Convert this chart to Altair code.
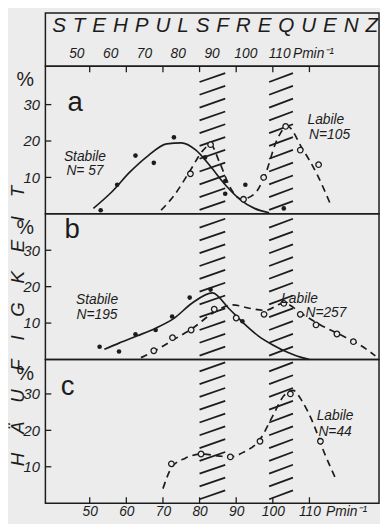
import altair as alt
import pandas as pd

# ---------------- data ----------------
X_TICKS = [50, 60, 70, 80, 90, 100, 110]
UNIT_X = 120
UNIT_LABEL = "Pmin⁻¹"
Y_TICKS = [10, 20, 30]
TITLE = "STEHPULSFREQUENZ"
Y_TITLE = "HÄUFIGKEIT"

# hatched bands (pulse frequency)
BAND_LO = [80, 99]
BAND_HI = [87, 105.5]

# panel a
A_STAB_PX = [53, 57.5, 62.5, 67.5, 73, 81.5, 87, 87, 92.5, 103]
A_STAB_PY = [1, 8, 16, 14, 21, 15.5, 9, 5.5, 8, 1.5]
A_STAB_CX = [51, 56, 61, 66, 71, 75, 79, 83, 87, 91, 95, 99]
A_STAB_CY = [1.5, 6, 11.5, 16, 19.2, 19.5, 17.5, 13, 8, 4, 1.5, 0.3]
A_LAB_PX = [77.5, 83, 92, 97.5, 103.5, 107.5, 112.5]
A_LAB_PY = [11, 19, 4, 10, 24, 17.5, 13.5]
A_LAB_CX = [69.5, 73, 77.5, 81, 83, 85.5, 88.5, 91.5, 95, 98, 101, 104, 108, 112, 116]
A_LAB_CY = [1, 5, 12, 17.5, 19, 14, 7, 4, 5.5, 11, 20, 24, 18, 11, 2]

# panel b
B_STAB_PX = [52.7, 58, 62.5, 68, 72.5, 77.3, 83, 91.7]
B_STAB_PY = [3.5, 2.2, 6.9, 8.1, 11.8, 17, 19.2, 10.5]
B_STAB_CX = [54, 58, 63, 68, 73, 78, 83.5, 88, 92, 96, 100, 104, 108, 110]
B_STAB_CY = [2.8, 4.5, 6.5, 8.6, 11.3, 15.5, 18.3, 14, 10, 6.5, 4, 2, 0.5, 0]
B_LAB_PX = [67.5, 72.6, 77.7, 84, 90, 97.6, 103, 107.5, 111.8, 117.5, 122]
B_LAB_PY = [2.4, 6, 8.1, 13.8, 11.4, 12.4, 15.4, 12.4, 9.5, 7, 4.9]
B_LAB_CX = [64, 68, 73, 78, 84, 89, 94, 98, 103, 108, 113, 118, 123, 128]
B_LAB_CY = [0.5, 2.5, 5.5, 8.5, 13, 15, 14, 13.5, 15.5, 12.5, 9.5, 7, 4.5, 1]

# panel c
C_LAB_PX = [72.3, 80.4, 88.4, 96.5, 104.8, 113]
C_LAB_PY = [10.8, 13.5, 12.7, 17, 30, 17]
C_LAB_CX = [70, 72.5, 76, 80.5, 85, 88.5, 92, 96.5, 100, 103, 105.5, 108, 111, 114, 117.5]
C_LAB_CY = [4, 10, 12.3, 13.5, 13, 12.7, 14, 17.5, 24, 29.5, 31, 28, 22, 14, 6]

# ---------------- styling ----------------
PXU = 3.7          # pixels per y unit
W = 339
X_DOM = [37.9, 129.0]
TITLE_X_DOM = [40.7, 139.4]
FONT = "Liberation Sans"
INK = "#1c1c1c"
BG = "#ececec"


def xenc(axis=None, dom=X_DOM):
    return alt.X("x:Q", scale=alt.Scale(domain=dom, nice=False, zero=False), axis=axis,
                 title=None)


def yaxis():
    return alt.Axis(values=Y_TICKS, ticks=False, domain=False, grid=False,
                    labelFont=FONT, labelFontStyle="italic", labelFontSize=15,
                    labelColor=INK, labelPadding=6,
                    title="%", titleAngle=0, titleFont=FONT, titleFontSize=20,
                    titleFontWeight="normal", titleColor=INK, titleX=-21, titleY=14,
                    titleAlign="center", titleBaseline="middle")


def yenc(h, field="y"):
    return alt.Y(f"{field}:Q", scale=alt.Scale(domain=[0, h / PXU], nice=False, zero=False),
                 axis=yaxis())


def hatch_df(h):
    rows = []
    step, rise = 13.0, 9.0
    y = 4.0
    while y + rise < h - 2:
        for lo, hi in zip(BAND_LO, BAND_HI):
            rows.append({"x": lo, "x2": hi, "y": y / PXU, "y2": (y + rise) / PXU})
        y += step
    return pd.DataFrame(rows)


def panel(h, series, annots, letter, bottom=False, top_ticks=False, extra=None):
    xaxis = None
    if bottom:
        xaxis = alt.Axis(values=X_TICKS + [UNIT_X], ticks=False, domain=False, grid=False,
                         labelExpr=f"datum.value == {UNIT_X} ? '{UNIT_LABEL}' : datum.label",
                         labelFont=FONT, labelFontStyle="italic", labelFontSize=14,
                         labelColor=INK, labelPadding=2, labelFlush=False,
                         labelOverlap=False, labelBound=False, title=None)
    X = xenc(xaxis)
    Y = yenc(h)
    layers = []
    layers.append(alt.Chart(hatch_df(h)).mark_rule(color=INK, strokeWidth=1.8).encode(
        x=X, x2="x2:Q", y=Y, y2="y2:Q"))
    layers.append(alt.Chart(pd.DataFrame({"y": Y_TICKS})).mark_rule(color=INK, strokeWidth=1.3).encode(
        y=Y, x=alt.value(0), x2=alt.value(6)))
    tick_df = pd.DataFrame({"x": X_TICKS})
    if top_ticks:
        layers.append(alt.Chart(tick_df).mark_rule(color=INK, strokeWidth=1.3).encode(
            x=X, y=alt.value(0), y2=alt.value(6)))
    if bottom:
        layers.append(alt.Chart(tick_df).mark_rule(color=INK, strokeWidth=1.3).encode(
            x=X, y=alt.value(h), y2=alt.value(h - 6)))
    for kind, cx, cy, px, py in series:
        cdf = pd.DataFrame({"x": cx, "y": cy})
        pdf = pd.DataFrame({"x": px, "y": py})
        if kind == "stab":
            layers.append(alt.Chart(cdf).mark_line(color=INK, strokeWidth=1.7,
                                                   interpolate="monotone").encode(x=X, y=Y))
            layers.append(alt.Chart(pdf).mark_point(filled=True, color=INK, size=22,
                                                    opacity=1).encode(x=X, y=Y))
        else:
            layers.append(alt.Chart(cdf).mark_line(color=INK, strokeWidth=1.7, strokeDash=[7, 5],
                                                   interpolate="monotone").encode(x=X, y=Y))
            layers.append(alt.Chart(pdf).mark_point(filled=False, color=INK, fill=BG, size=32,
                                                    strokeWidth=1.3, opacity=1).encode(x=X, y=Y))
    adf = pd.DataFrame(annots, columns=["x", "y", "t"])
    layers.append(alt.Chart(adf).mark_text(font=FONT, fontStyle="italic", fontSize=14,
                                           color=INK).encode(x=X, y=Y, text="t:N"))
    ldf = pd.DataFrame([letter], columns=["x", "y", "t"])
    layers.append(alt.Chart(ldf).mark_text(font=FONT, fontSize=28, color=INK).encode(
        x=X, y=Y, text="t:N"))
    if extra is not None:
        layers.append(extra)
    return alt.layer(*layers).properties(width=W, height=h)


# title box
tick_labels = pd.DataFrame({"x": X_TICKS + [UNIT_X],
                            "lab": [str(v) for v in X_TICKS] + [UNIT_LABEL]})
title_layer = alt.Chart(pd.DataFrame({"t": ["\u2004".join(TITLE)]})).mark_text(
    font=FONT, fontSize=21, fontStyle="italic", color=INK).encode(
    text="t:N", x=alt.value(W / 2 + 3), y=alt.value(13))
title_ticks = alt.Chart(tick_labels).mark_text(
    font=FONT, fontSize=14, fontStyle="italic", color=INK).encode(
    x=xenc(None, TITLE_X_DOM), y=alt.value(42), text="lab:N")
title_view = alt.layer(title_layer, title_ticks).properties(width=W, height=54)

ytitle = alt.Chart(pd.DataFrame({"t": ["\u2003".join(Y_TITLE)]})).mark_text(
    font=FONT, fontSize=19, fontStyle="italic", color=INK, angle=270).encode(
    text="t:N", x=alt.value(-28), y=alt.value(114))

pa = panel(150,
           [("stab", A_STAB_CX, A_STAB_CY, A_STAB_PX, A_STAB_PY),
            ("lab", A_LAB_CX, A_LAB_CY, A_LAB_PX, A_LAB_PY)],
           [(48.7, 15.6, "Stabile"), (48.7, 11.7, "N= 57"),
            (114.5, 25.7, "Labile"), (115.5, 21.6, "N=105")],
           (46, 30.3, "a"), top_ticks=True)
pb = panel(148,
           [("stab", B_STAB_CX, B_STAB_CY, B_STAB_PX, B_STAB_PY),
            ("lab", B_LAB_CX, B_LAB_CY, B_LAB_PX, B_LAB_PY)],
           [(52, 16.2, "Stabile"), (52, 12.3, "N=195"),
            (107.3, 16.6, "Labile"), (114.5, 12.7, "N=257")],
           (45.2, 35.5, "b"), extra=ytitle)
pc = panel(146,
           [("lab", C_LAB_CX, C_LAB_CY, C_LAB_PX, C_LAB_PY)],
           [(117, 24, "Labile"), (117, 19.5, "N=44")],
           (44, 31.9, "c"), bottom=True)

chart = alt.vconcat(title_view, pa, pb, pc, spacing=0, bounds="flush").properties(
    padding=0, background=BG
).configure_view(stroke=INK, strokeWidth=1.5)

chart.save("out.html", embed_options={"renderer": "svg", "actions": False})
